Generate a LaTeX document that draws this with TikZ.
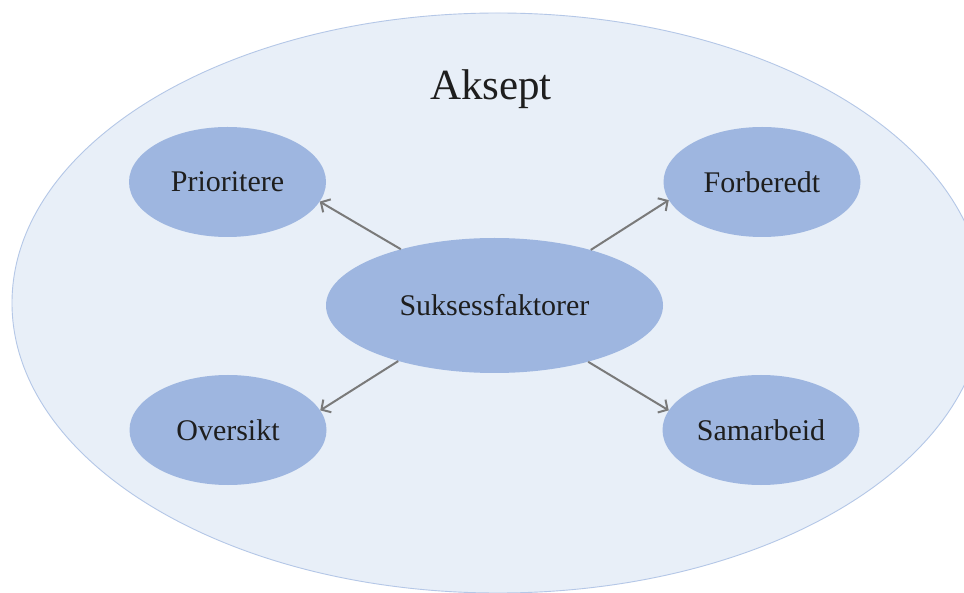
\documentclass[tikz,border=0pt]{standalone}
\usepackage{fontspec}
\setmainfont{Liberation Serif}
\usetikzlibrary{shapes.geometric,arrows.meta}
\definecolor{areafill}{RGB}{232,239,248}
\definecolor{areaedge}{RGB}{180,199,231}
\definecolor{bubblefill}{RGB}{158,182,224}
\definecolor{linkgray}{RGB}{122,122,122}
\definecolor{ink}{RGB}{30,30,30}
\begin{document}
\begin{tikzpicture}[x=1pt,y=-1pt,
  area/.style={ellipse, fill=areafill, draw=areaedge, line width=0.9pt,
    minimum width=972pt, minimum height=580pt, inner sep=0pt},
  bubble/.style={ellipse, fill=bubblefill, inner sep=0pt,
    minimum width=197pt, minimum height=110pt, text=ink,
    font=\fontsize{30}{35}\selectfont},
  hub/.style={bubble, minimum width=337pt, minimum height=135pt},
  link/.style={draw=linkgray, line width=2pt,
    -{Straight Barb[length=7pt,width=15pt]}}
]
\useasboundingbox (0,0) rectangle (964,593);
\clip (0,0) rectangle (964,593);
\fill[white] (0,0) rectangle (964,593);

% surrounding area
\node[area] (area) at (498,303) {};
\node[font=\fontsize{43}{50}\selectfont, text=ink, anchor=base] (title) at (491,100) {Aksept};

% central factor and its four branches
\node[hub] (hub) at (494.5,305.5) {Suksessfaktorer};
\node[bubble] (pri) at (227.5,182) {Prioritere};
\node[bubble] (for) at (762,182) {Forberedt};
\node[bubble] (ove) at (228,430) {Oversikt};
\node[bubble] (sam) at (761,430) {Samarbeid};

\draw[link] (hub.149.5) -- (pri.-12.5);
\draw[link] (hub.30.5) -- (for.191.5);
\draw[link] (hub.210.5) -- (ove.12.5);
\draw[link] (hub.329.5) -- (sam.168.5);
\end{tikzpicture}
\end{document}
